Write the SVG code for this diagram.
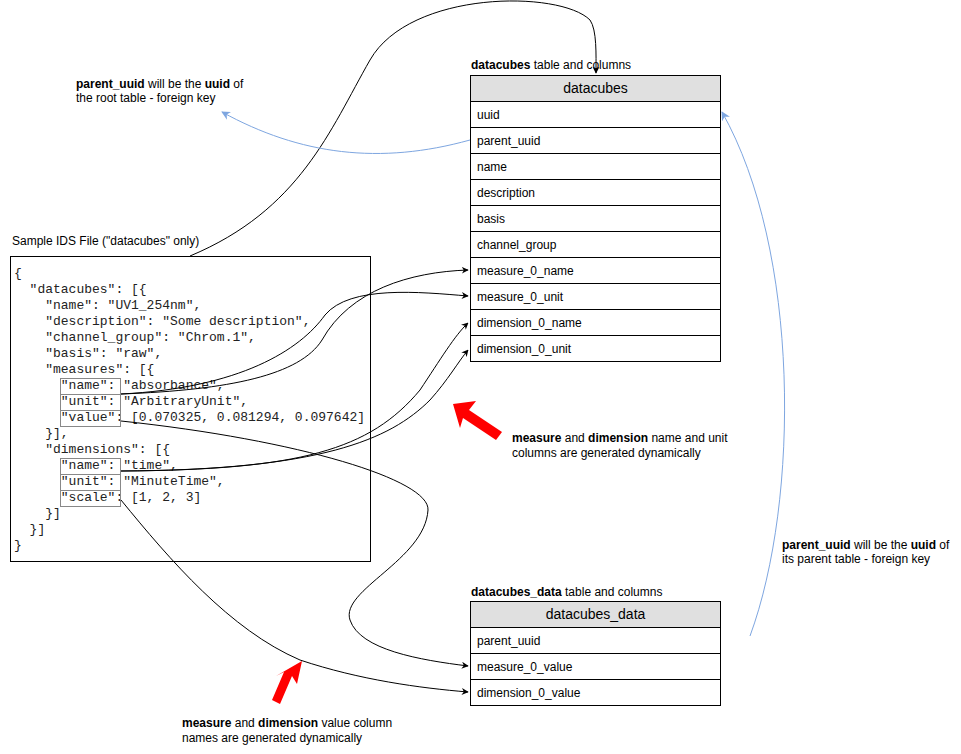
<svg xmlns="http://www.w3.org/2000/svg" width="961" height="754" viewBox="0 0 961 754">
<defs>
<marker id="ab" viewBox="0 0 10 10" refX="9" refY="5" markerWidth="7" markerHeight="7" orient="auto" markerUnits="userSpaceOnUse"><path d="M0,0 L10,5 L0,10 L3,5 z" fill="#000"/></marker>
<marker id="abl" viewBox="0 0 10 10" refX="9" refY="5" markerWidth="9" markerHeight="9" orient="auto" markerUnits="userSpaceOnUse"><path d="M0,0 L10,5 L0,10 L3,5 z" fill="#7ea6e0"/></marker>
<style>
text{font-family:"Liberation Sans",Arial,sans-serif;font-size:12px;fill:#000}
.m{font-family:"Liberation Mono","Courier New",monospace;font-size:13px;fill:#222}
.h{font-size:14px}
.b{font-weight:bold}
.row{fill:#fff;stroke:#000;stroke-width:1}
.hd{fill:#e0e0e0;stroke:#000;stroke-width:1}
.c{fill:none;stroke:#000;stroke-width:1;marker-end:url(#ab)}
.cb{fill:none;stroke:#7ea6e0;stroke-width:1;marker-end:url(#abl)}
.sb{fill:none;stroke:#888;stroke-width:1}
</style>
</defs>
<rect width="961" height="754" fill="#fff"/>

<g id="notes">
<text x="76" y="88"><tspan class="b">parent_uuid</tspan> will be the <tspan class="b">uuid</tspan> of</text>
<text x="76" y="102">the root table - foreign key</text>
<text x="471" y="69"><tspan class="b">datacubes</tspan> table and columns</text>
<text x="12" y="245">Sample IDS File ("datacubes" only)</text>
<text x="782" y="549"><tspan class="b">parent_uuid</tspan> will be the <tspan class="b">uuid</tspan> of</text>
<text x="782" y="563">its parent table - foreign key</text>
<text x="471" y="596"><tspan class="b">datacubes_data</tspan> table and columns</text>
<text x="512" y="442"><tspan class="b">measure</tspan> and <tspan class="b">dimension</tspan> name and unit</text>
<text x="512" y="457">columns are generated dynamically</text>
<text x="182" y="727"><tspan class="b">measure</tspan> and <tspan class="b">dimension</tspan> value column</text>
<text x="182" y="742">names are generated dynamically</text>
</g>

<g id="datacubes">
<rect class="hd" x="470.5" y="75.5" width="250" height="26"/>
<text class="h" x="595.5" y="93" text-anchor="middle">datacubes</text>
<rect class="row" x="470.5" y="101.5" width="250" height="26"/><text x="477" y="119">uuid</text>
<rect class="row" x="470.5" y="127.5" width="250" height="26"/><text x="477" y="145">parent_uuid</text>
<rect class="row" x="470.5" y="153.5" width="250" height="26"/><text x="477" y="171">name</text>
<rect class="row" x="470.5" y="179.5" width="250" height="26"/><text x="477" y="197">description</text>
<rect class="row" x="470.5" y="205.5" width="250" height="26"/><text x="477" y="223">basis</text>
<rect class="row" x="470.5" y="231.5" width="250" height="26"/><text x="477" y="249">channel_group</text>
<rect class="row" x="470.5" y="257.5" width="250" height="26"/><text x="477" y="275">measure_0_name</text>
<rect class="row" x="470.5" y="283.5" width="250" height="26"/><text x="477" y="301">measure_0_unit</text>
<rect class="row" x="470.5" y="309.5" width="250" height="26"/><text x="477" y="327">dimension_0_name</text>
<rect class="row" x="470.5" y="335.5" width="250" height="26"/><text x="477" y="353">dimension_0_unit</text>
</g>

<g id="datacubes_data">
<rect class="hd" x="470.5" y="601.5" width="250" height="26"/>
<text class="h" x="595.5" y="619" text-anchor="middle">datacubes_data</text>
<rect class="row" x="470.5" y="627.5" width="250" height="26"/><text x="477" y="645">parent_uuid</text>
<rect class="row" x="470.5" y="653.5" width="250" height="26"/><text x="477" y="671">measure_0_value</text>
<rect class="row" x="470.5" y="679.5" width="250" height="26"/><text x="477" y="697">dimension_0_value</text>
</g>

<g id="sample_file">
<rect x="10.5" y="256.5" width="360" height="305" fill="#fff" stroke="#000"/>
<text class="m" xml:space="preserve" x="14" y="277">{</text>
<text class="m" xml:space="preserve" x="14" y="293">  "datacubes": [{</text>
<text class="m" xml:space="preserve" x="14" y="309">    "name": "UV1_254nm",</text>
<text class="m" xml:space="preserve" x="14" y="325">    "description": "Some description",</text>
<text class="m" xml:space="preserve" x="14" y="341">    "channel_group": "Chrom.1",</text>
<text class="m" xml:space="preserve" x="14" y="357">    "basis": "raw",</text>
<text class="m" xml:space="preserve" x="14" y="373">    "measures": [{</text>
<text class="m" xml:space="preserve" x="14" y="389">      "name": "absorbance",</text>
<text class="m" xml:space="preserve" x="14" y="405">      "unit": "ArbitraryUnit",</text>
<text class="m" xml:space="preserve" x="14" y="421">      "value": [0.070325, 0.081294, 0.097642]</text>
<text class="m" xml:space="preserve" x="14" y="437">    }],</text>
<text class="m" xml:space="preserve" x="14" y="453">    "dimensions": [{</text>
<text class="m" xml:space="preserve" x="14" y="469">      "name": "time",</text>
<text class="m" xml:space="preserve" x="14" y="485">      "unit": "MinuteTime",</text>
<text class="m" xml:space="preserve" x="14" y="501">      "scale": [1, 2, 3]</text>
<text class="m" xml:space="preserve" x="14" y="517">    }]</text>
<text class="m" xml:space="preserve" x="14" y="533">  }]</text>
<text class="m" xml:space="preserve" x="14" y="549">}</text>
<rect class="sb" x="60.5" y="378.5" width="60" height="16"/>
<rect class="sb" x="60.5" y="394.5" width="60" height="16"/>
<rect class="sb" x="60.5" y="410.5" width="60" height="16"/>
<rect class="sb" x="60.5" y="458.5" width="60" height="16"/>
<rect class="sb" x="60.5" y="474.5" width="60" height="16"/>
<rect class="sb" x="60.5" y="490.5" width="60" height="16"/>
</g>

<g id="red_arrows" fill="#ff0000">
<polygon points="453,404 476,401 469,410 502,432 496,440 463,418 460,428"/>
<polygon points="302,661 297,684 292,676 280,704 272,700 284,672 276,676"/>
</g>

<g id="connectors">
<path class="c" d="M121,394 C230,390 300,375 322,340 C350,290 410,272 468,270"/>
<path class="c" d="M121,394 C240,388 300,350 325,315 C350,285 420,292 468,296"/>
<path class="c" d="M121,421 C300,440 430,480 428,510 C425,560 340,590 350,620 C360,650 420,660 468,666"/>
<path class="c" d="M121,471 C300,470 370,450 420,390 C440,360 455,335 468,323"/>
<path class="c" d="M121,471 C320,470 390,440 430,400 C448,380 458,362 468,350"/>
<path class="c" d="M121,500 C170,560 230,630 300,660 C360,680 420,688 468,692"/>
<path class="c" d="M190,256 C300,210 330,130 370,60 C410,-10 560,-10 590,20 C597,30 596,55 596,73"/>
<path class="cb" d="M470,140 C380,165 300,155 222,112"/>
<path class="cb" d="M750,636 C800,500 800,250 722,112"/>
</g>
</svg>
